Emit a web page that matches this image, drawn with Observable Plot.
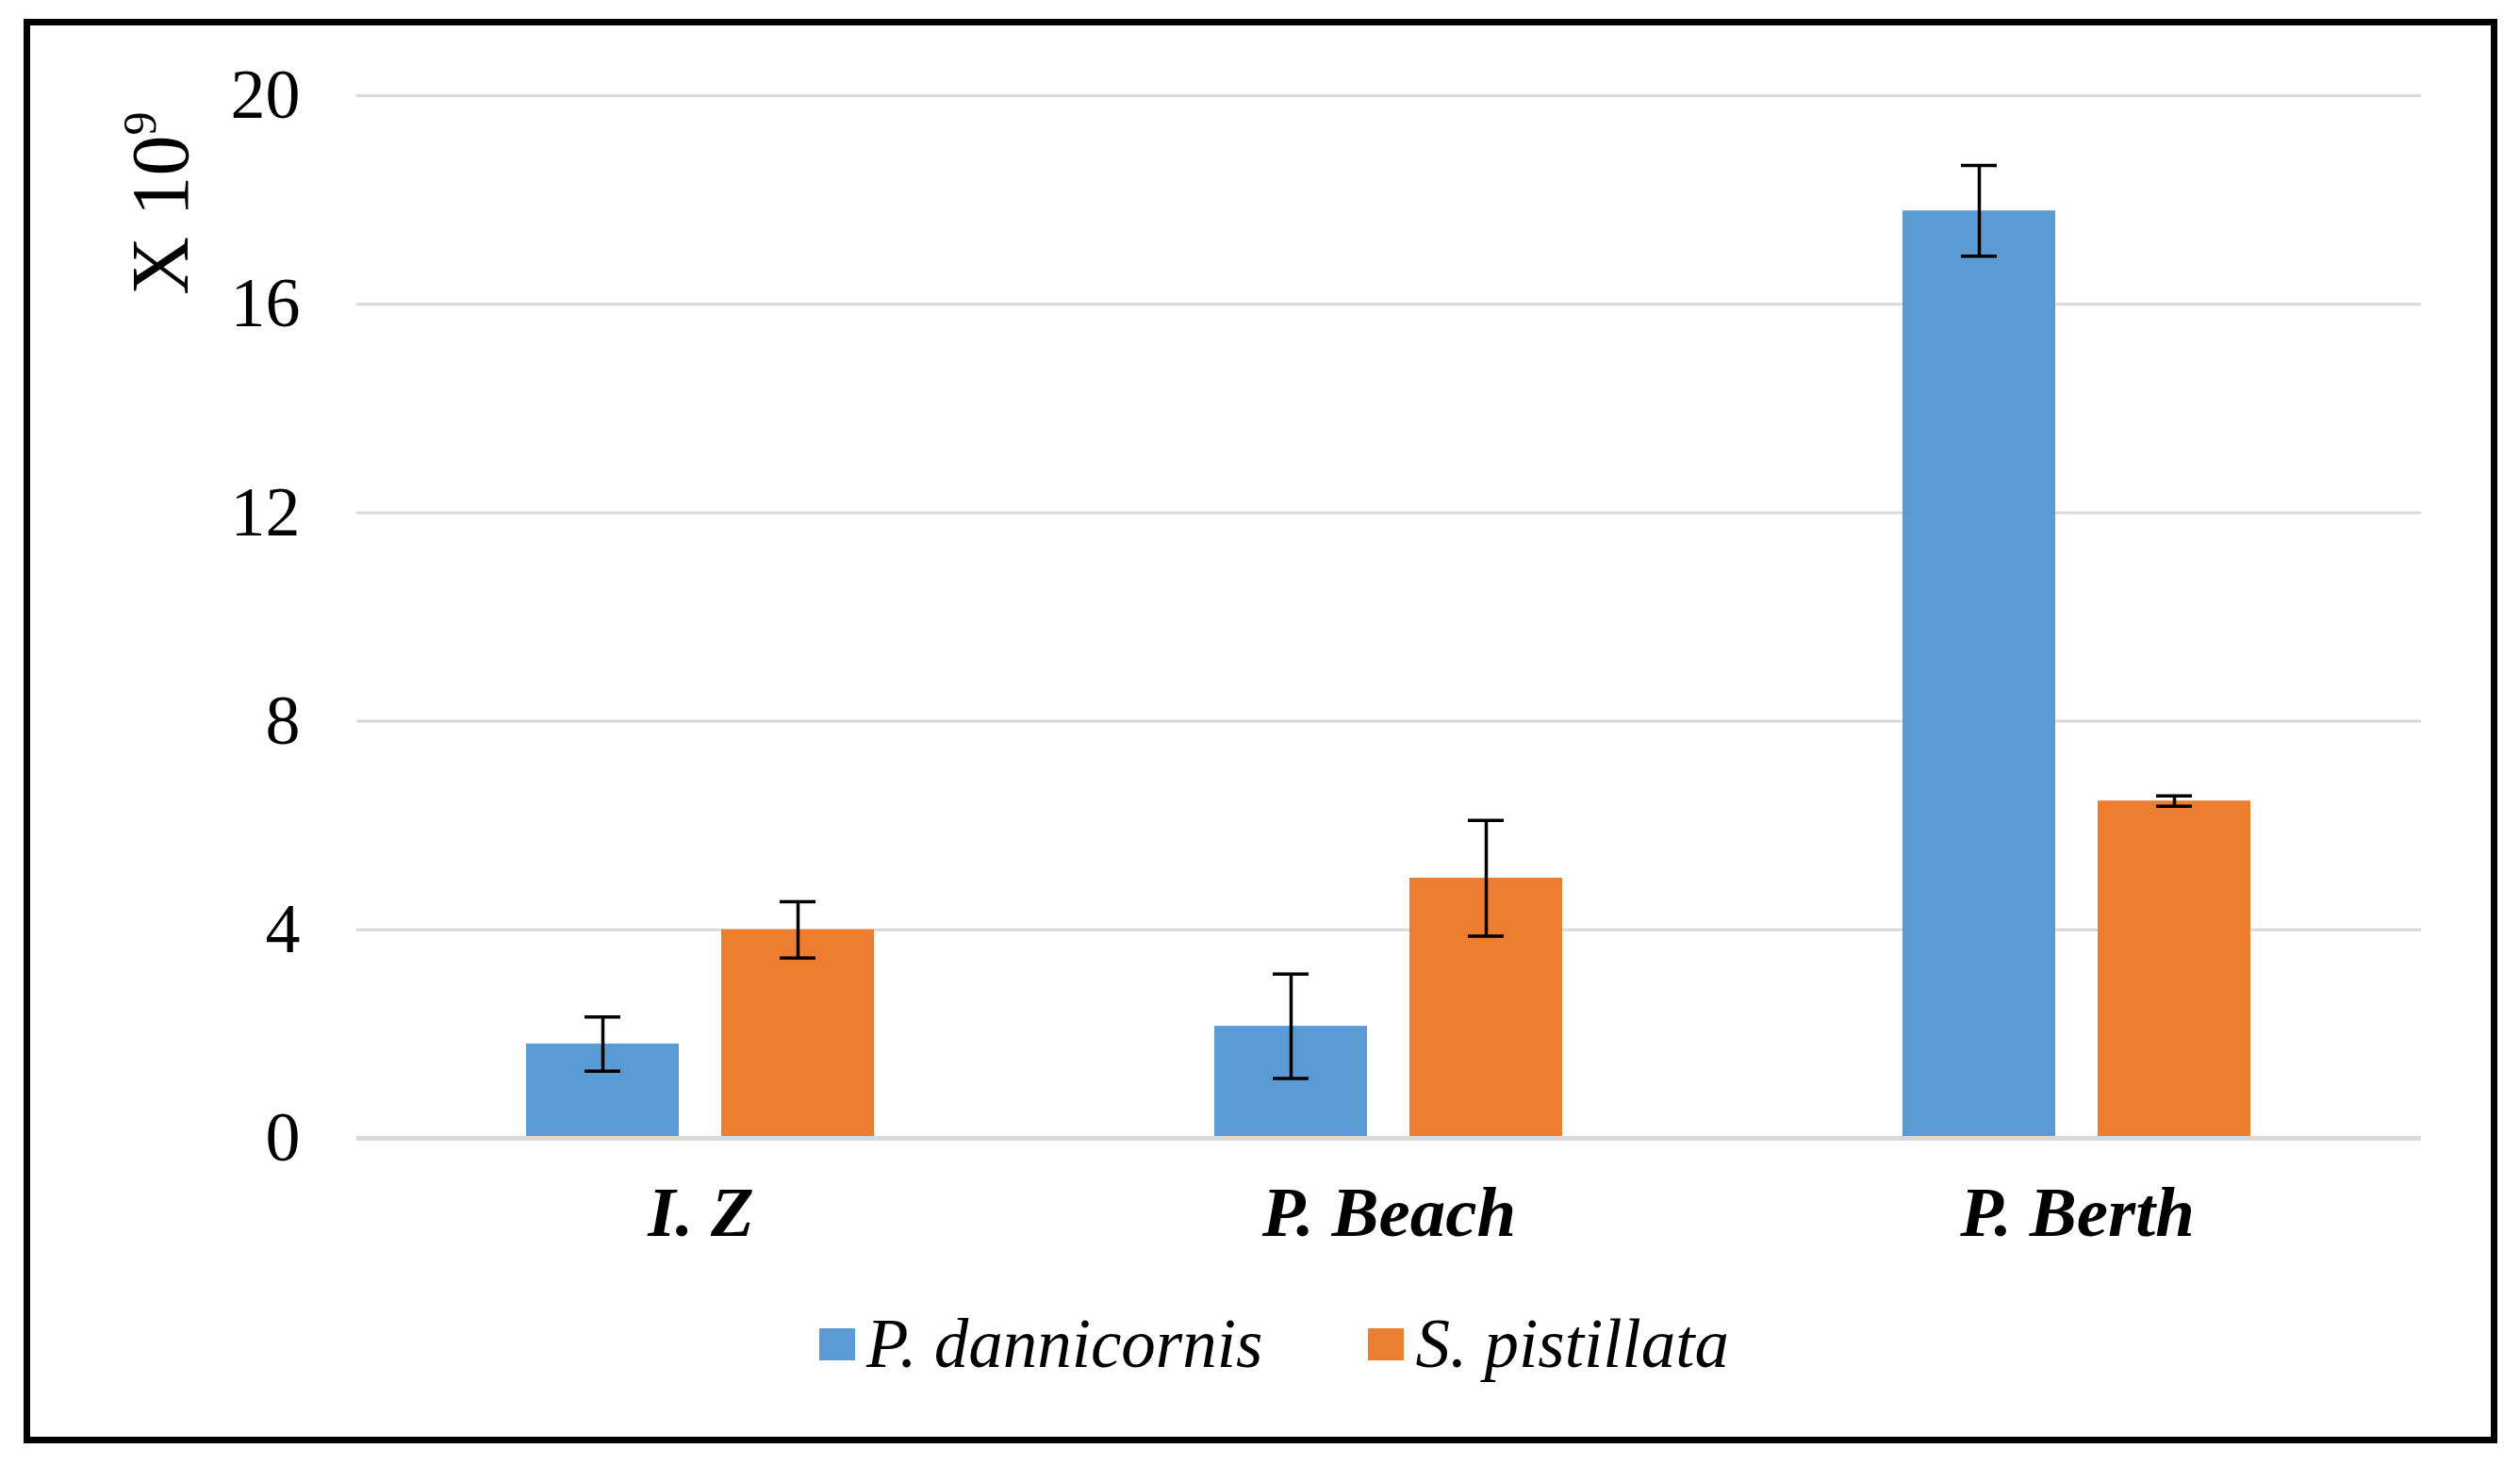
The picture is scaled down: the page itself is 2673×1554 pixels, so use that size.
<!DOCTYPE html>
<html><head><meta charset="utf-8">
<script src="https://cdn.jsdelivr.net/npm/d3@7"></script>
<script src="https://cdn.jsdelivr.net/npm/@observablehq/plot@0.6"></script>
<style>
html,body{margin:0;padding:0;background:#fff;}
body{width:2673px;height:1554px;position:relative;overflow:hidden;font-family:"Liberation Serif","Times New Roman",serif;}
#frame{position:absolute;left:25px;top:20px;width:2624px;height:1511px;border:7px solid #000;box-sizing:border-box;}
#chart{position:absolute;left:0;top:0;}
#legend{position:absolute;left:869px;top:1384px;}
#legend div{font-family:"Liberation Serif","Times New Roman",serif !important;font-size:73px !important;font-style:italic;color:#000;margin:0 !important;}
#legend [class$="-swatch"]{margin-right:112px !important;}
#legend [class$="-swatch"] > svg{margin-right:12px !important;}
</style></head><body>
<div id="frame"></div><div id="chart"></div><div id="legend"></div>
<script>
const sites = ["I. Z", "P. Beach", "P. Berth"];
const species = ["P. dannicornis", "S. pistillata"];
const pdValues = [1.81, 2.15, 17.79];
const pdErrors = [0.52, 1.0, 0.87];
const spValues = [4.0, 4.99, 6.47];
const spErrors = [0.54, 1.11, 0.1];
const yTicks = [0, 4, 8, 12, 16, 20];
const colors = ["#5B9BD5", "#ED7D31"];

const data = [];
sites.forEach((s, i) => {
  data.push({site: s, species: species[0], value: pdValues[i], err: pdErrors[i]});
  data.push({site: s, species: species[1], value: spValues[i], err: spErrors[i]});
});

const W = 2673, H = 1340;
const errStyle = {stroke: "#000", strokeWidth: 3.5};
const plot = Plot.plot({
  width: W, height: H,
  marginLeft: 377, marginRight: 105, marginTop: 101, marginBottom: H - 1207,
  style: {fontFamily: "Liberation Serif, Times New Roman, serif", background: "transparent", overflow: "visible", color: "#000"},
  fx: {domain: sites, padding: 0, label: null, axis: null},
  x: {domain: species, paddingInner: 0.216, paddingOuter: 0.863, axis: null},
  y: {domain: [0, 20], ticks: yTicks, label: null, axis: null},
  color: {domain: species, range: colors},
  marks: [
    Plot.ruleY(yTicks.filter(d => d > 0), {stroke: "#d9d9d9", strokeWidth: 3}),
    Plot.barY(data, {fx: "site", x: "species", y: "value", fill: "species"}),
    Plot.ruleY([0], {stroke: "#d9d9d9", strokeWidth: 5}),
    Plot.ruleX(data, {fx: "site", x: "species", y1: d => d.value - d.err, y2: d => d.value + d.err, ...errStyle}),
    Plot.tickY(data, {fx: "site", x: "species", y: d => d.value + d.err, insetLeft: 62, insetRight: 62, ...errStyle}),
    Plot.tickY(data, {fx: "site", x: "species", y: d => d.value - d.err, insetLeft: 62, insetRight: 62, ...errStyle}),
    Plot.axisY({ticks: yTicks, tickSize: 0, tickPadding: 60, fontSize: 74, label: null}),
    Plot.axisFx({anchor: "bottom", tickSize: 0, tickPadding: 50, fontSize: 75, fontWeight: "bold", fontStyle: "italic", label: null})
  ]
});

const svg = d3.select(plot);
const t = svg.append("text")
  .attr("transform", "translate(199,313) rotate(-90)")
  .attr("text-anchor", "start")
  .attr("font-size", 86)
  .attr("fill", "#000")
  .style("font-family", "Liberation Serif, Times New Roman, serif");
t.append("tspan").text("X 10");
t.append("tspan").attr("font-size", 50).attr("dy", -34).text("9");

document.getElementById("chart").appendChild(plot);

const leg = Plot.legend({
  color: {domain: species, range: colors},
  legend: "swatches",
  swatchWidth: 38, swatchHeight: 34
});
document.getElementById("legend").appendChild(leg);
</script>
</body></html>
